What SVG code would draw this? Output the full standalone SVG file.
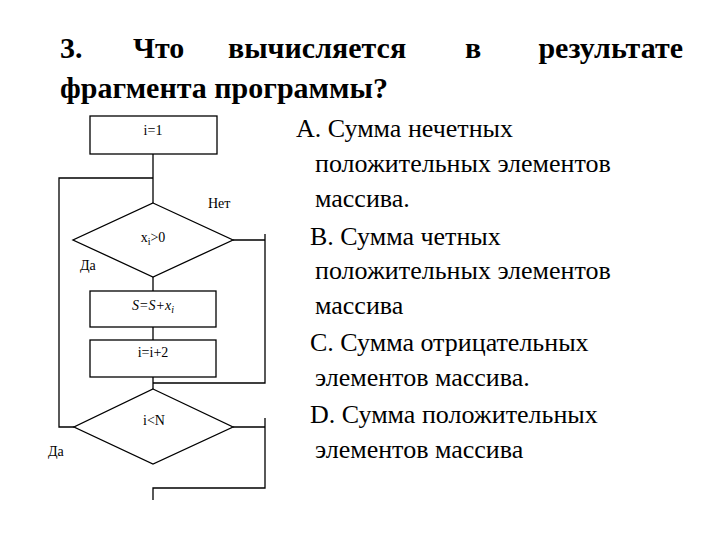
<svg xmlns="http://www.w3.org/2000/svg" width="720" height="540" viewBox="0 0 720 540">
<rect width="720" height="540" fill="#fff"/>
<g id="title">
<text style="font-family:'Liberation Serif'" font-size="30" font-weight="bold" x="60" y="58">3.</text>
<text style="font-family:'Liberation Serif'" font-size="30" font-weight="bold" x="133" y="58">Что</text>
<text style="font-family:'Liberation Serif'" font-size="30" font-weight="bold" x="228" y="58">вычисляется</text>
<text style="font-family:'Liberation Serif'" font-size="30" font-weight="bold" x="465" y="58">в</text>
<text style="font-family:'Liberation Serif'" font-size="30" font-weight="bold" x="683" y="58" text-anchor="end">результате</text>
<text style="font-family:'Liberation Serif'" font-size="30" font-weight="bold" x="60" y="98">фрагмента программы?</text>
</g>
<g id="connectors" fill="none" stroke="#000" stroke-width="1.3">
<path d="M153,154V203"/>
<path d="M153,277V291"/>
<path d="M153,327V340"/>
<path d="M153,377V389"/>
<path d="M233,240H265M265,234V383H153"/>
<path d="M74,427H59V178H153"/>
<path d="M233,427H265M265,418V488H153V500"/>
</g>
<g id="n-init">
<rect fill="#fff" stroke="#000" stroke-width="1.3" x="90" y="116" width="127" height="38"/>
<text style="font-family:'Liberation Serif'" font-size="14" x="153" y="135" text-anchor="middle">i=1</text>
</g>
<g id="n-cond1">
<polygon fill="#fff" stroke="#000" stroke-width="1.3" points="153,203 233,240 153,277 73,240"/>
<text style="font-family:'Liberation Serif'" font-size="14" x="153" y="242" text-anchor="middle">x<tspan font-size="10" dy="3">i</tspan><tspan dy="-3">&gt;0</tspan></text>
<text style="font-family:'Liberation Serif'" font-size="14" x="208" y="208">Нет</text>
<text style="font-family:'Liberation Serif'" font-size="14" x="80" y="270">Да</text>
</g>
<g id="n-sum">
<rect fill="#fff" stroke="#000" stroke-width="1.3" x="90" y="291" width="126" height="36"/>
<text style="font-family:'Liberation Serif'" font-size="14" x="153" y="310" text-anchor="middle" font-style="italic">S=S+x<tspan font-size="10" dy="3">i</tspan></text>
</g>
<g id="n-inc">
<rect fill="#fff" stroke="#000" stroke-width="1.3" x="90" y="340" width="126" height="37"/>
<text style="font-family:'Liberation Serif'" font-size="14" x="153" y="357" text-anchor="middle">i=i+2</text>
</g>
<g id="n-cond2">
<polygon fill="#fff" stroke="#000" stroke-width="1.3" points="153,389 233,427 153,464 74,427"/>
<text style="font-family:'Liberation Serif'" font-size="14" x="154" y="425" text-anchor="middle">i&lt;N</text>
<text style="font-family:'Liberation Serif'" font-size="14" x="48" y="456">Да</text>
</g>
<g id="answers">
<text style="font-family:'Liberation Serif'" font-size="26" x="296" y="137">А. Сумма нечетных</text>
<text style="font-family:'Liberation Serif'" font-size="26" x="315" y="172">положительных элементов</text>
<text style="font-family:'Liberation Serif'" font-size="26" x="315" y="207">массива.</text>
<text style="font-family:'Liberation Serif'" font-size="26" x="310" y="245">В. Сумма четных</text>
<text style="font-family:'Liberation Serif'" font-size="26" x="315" y="279">положительных элементов</text>
<text style="font-family:'Liberation Serif'" font-size="26" x="315" y="314">массива</text>
<text style="font-family:'Liberation Serif'" font-size="26" x="310" y="351">С. Сумма отрицательных</text>
<text style="font-family:'Liberation Serif'" font-size="26" x="315" y="386">элементов массива.</text>
<text style="font-family:'Liberation Serif'" font-size="26" x="310" y="423">D. Сумма положительных</text>
<text style="font-family:'Liberation Serif'" font-size="26" x="315" y="458">элементов массива</text>
</g>
</svg>
